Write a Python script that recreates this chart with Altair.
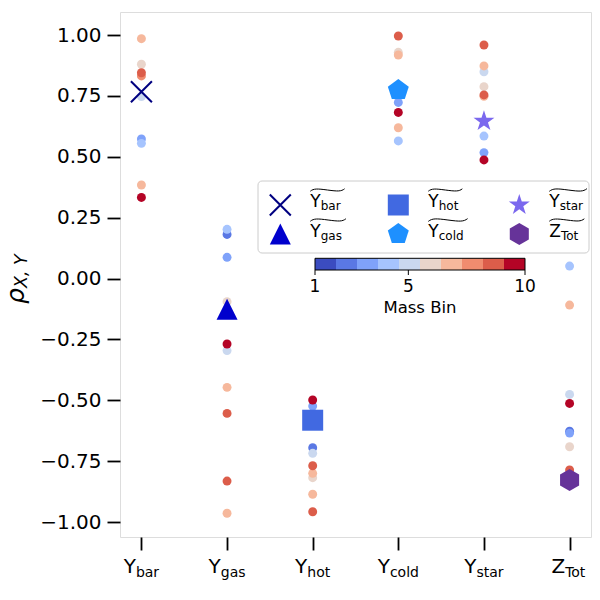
import math
import altair as alt
import pandas as pd

# ---------------- data ----------------
categories = ["Y_bar", "Y_gas", "Y_hot", "Y_cold", "Y_star", "Z_Tot"]
label_main = ["Y", "Y", "Y", "Y", "Y", "Z"]
label_sub = ["bar", "gas", "hot", "cold", "star", "Tot"]

ybar_vals = [0.985, 0.880, 0.845, 0.832, 0.747, 0.573, 0.555, 0.384, 0.333]
ybar_bins = [7, 6, 9, 8, 5, 3, 4, 7, 10]
ygas_vals = [0.202, 0.181, 0.087, -0.095, -0.269, -0.296, -0.447, -0.554, -0.832, -0.964]
ygas_bins = [4, 2, 3, 6, 10, 5, 7, 9, 9, 7]
yhot_vals = [-0.499, -0.524, -0.695, -0.718, -0.769, -0.800, -0.818, -0.886, -0.958]
yhot_bins = [10, 3, 2, 5, 9, 7, 6, 7, 9]
ycold_vals = [0.996, 0.929, 0.918, 0.723, 0.682, 0.619, 0.565]
ycold_bins = [9, 6, 7, 3, 10, 7, 4]
ystar_vals = [0.959, 0.873, 0.849, 0.788, 0.754, 0.748, 0.585, 0.517, 0.487]
ystar_bins = [9, 7, 5, 6, 9, 7, 4, 3, 10]
ztot_vals = [0.051, -0.109, -0.476, -0.513, -0.627, -0.635, -0.691, -0.786]
ztot_bins = [4, 7, 5, 10, 2, 3, 6, 9]

all_vals = [ybar_vals, ygas_vals, yhot_vals, ycold_vals, ystar_vals, ztot_vals]
all_bins = [ybar_bins, ygas_bins, yhot_bins, ycold_bins, ystar_bins, ztot_bins]

medians = [0.767, -0.126, -0.582, 0.774, 0.646, -0.828]
median_colors = ["#000080", "#0000cd", "#4169e1", "#1e90ff", "#7b68ee", "#663399"]

mass_bin_colors = ["#3b4cc0", "#5a78e4", "#7fa2fa", "#a6c4fe", "#cad8ef",
                   "#e9d5cb", "#f6b89c", "#f08c6f", "#dc5d4a", "#b40426"]
y_ticks = [-1.0, -0.75, -0.5, -0.25, 0.0, 0.25, 0.5, 0.75, 1.0]
cbar_ticks = [1, 5, 10]
cbar_title = "Mass Bin"

# ---------------- layout ----------------
FONT = "DejaVu Sans"
PLOT_L, PLOT_T, W, H = 120, 12, 471, 525
PLOT_R = PLOT_L + W
XMIN, XMAX = -0.25, 5.25
YMIN, YMAX = -1.0616, 1.0945


def dx(px):
    return XMIN + (px - PLOT_L) / W * (XMAX - XMIN)


def dy(py):
    return YMAX - (py - PLOT_T) / H * (YMAX - YMIN)


def cat_px(i):
    return PLOT_L + (i - XMIN) / (XMAX - XMIN) * W


ADV = {"Y": .611, "Z": .685, "X": .685, "T": .611, "b": .635, "a": .613, "r": .411,
       "g": .635, "s": .521, "h": .634, "o": .612, "t": .392, "c": .550, "l": .278,
       "d": .635, " ": .318, ",": .318}


def text_w(s, fs):
    return sum(ADV[c] for c in s) * fs


def poly_path(n, start_deg=-90.0, radii=(1.0,)):
    pts = []
    for k in range(n):
        ang = math.radians(start_deg + 360.0 / n * k)
        r = radii[k % len(radii)]
        pts.append(f"{r * math.cos(ang):.4f},{r * math.sin(ang):.4f}")
    return "M" + "L".join(pts) + "Z"


X_PATH = "M-1,-1L1,1M-1,1L1,-1"
TRI_PATH = "M0,-1L1,1L-1,1Z"
SQ_PATH = "M-1,-1L1,-1L1,1L-1,1Z"
PENT_PATH = poly_path(5)
STAR_PATH = poly_path(10, radii=(1.0, 0.381966))
HEX_PATH = poly_path(6)
TILDE_PATH = "M-1,0.07C-0.8,-0.09 -0.6,-0.08 0,0C0.6,0.08 0.8,0.09 1,-0.07"

shapes = [X_PATH, TRI_PATH, SQ_PATH, PENT_PATH, STAR_PATH, HEX_PATH]
sizes = [441, 441, 441, 484, 484, 484]

# ---------------- tables ----------------
rows = []
for i, (vals, bins) in enumerate(zip(all_vals, all_bins)):
    for v, b in zip(vals, bins):
        rows.append({"x": i, "y": v, "bin": b, "col": mass_bin_colors[b - 1]})
pts_df = pd.DataFrame(rows).sort_values("bin", kind="stable")

med_df = pd.DataFrame({"x": list(range(len(categories))), "y": medians,
                       "shape": shapes, "col": median_colors, "sz": sizes,
                       "cat": categories})

# legend
LEG_MX = [280.3, 398.3, 519.3]
LEG_MY = [205.0, 234.0]
LEG_BASE = [207.0, 237.0]
leg_pos = [(0, 0), (0, 1), (1, 0), (1, 1), (2, 0), (2, 1)]
leg_mark, leg_main, leg_sub, leg_tilde = [], [], [], []
for i, (c, r) in enumerate(leg_pos):
    leg_mark.append({"x": dx(LEG_MX[c]), "y": dy(LEG_MY[r]), "shape": shapes[i],
                     "col": median_colors[i], "sz": sizes[i], "cross": i == 0})
    left = LEG_MX[c] + 30
    wm = text_w(label_main[i], 17)
    ws = text_w(label_sub[i], 12)
    leg_main.append({"x": dx(left), "y": dy(LEG_BASE[r]), "text": label_main[i]})
    leg_sub.append({"x": dx(left + wm), "y": dy(LEG_BASE[r] + 3), "text": label_sub[i]})
    tw = wm + ws + 4
    leg_tilde.append({"x": dx(left + (wm + ws) / 2 + 2), "y": dy(LEG_BASE[r] - 17),
                      "sz": tw * tw})
leg_mark_df = pd.DataFrame(leg_mark)
leg_box_df = pd.DataFrame([{"x": dx(258), "x2": dx(PLOT_R - 2), "y": dy(181), "y2": dy(253)}])

# x tick labels with subscripts
tick_main, tick_sub = [], []
for i in range(len(categories)):
    wm = text_w(label_main[i], 20)
    ws = text_w(label_sub[i], 14)
    left = cat_px(i) - (wm + ws) / 2
    tick_main.append({"x": dx(left), "y": dy(573), "text": label_main[i]})
    tick_sub.append({"x": dx(left + wm), "y": dy(576.5), "text": label_sub[i]})

# colorbar
CB_L, CB_R, CB_T, CB_B = 315, 525, 258.3, 270


def cb_px(v):
    return CB_L + (v - 1) / 9 * (CB_R - CB_L)


cb_rows = []
for k in range(10):
    cb_rows.append({"x": dx(cb_px(1 + 0.9 * k)), "x2": dx(cb_px(1 + 0.9 * (k + 1))),
                    "y": dy(CB_T), "y2": dy(CB_B), "col": mass_bin_colors[k]})
cb_df = pd.DataFrame(cb_rows)
cb_out_df = pd.DataFrame([{"x": dx(CB_L), "x2": dx(CB_R), "y": dy(CB_T), "y2": dy(CB_B)}])
cb_tick_df = pd.DataFrame([{"x": dx(cb_px(t)), "y": dy(CB_B), "y2": dy(CB_B + 5),
                            "text": str(t), "ly": dy(292)} for t in cbar_ticks])
cb_title_df = pd.DataFrame([{"x": dx((CB_L + CB_R) / 2), "y": dy(312.5), "text": cbar_title}])

# y label
ylab_main = pd.DataFrame([{"x": dx(24.0), "y": dy(304), "text": "ρ"}])
ylab_sub = pd.DataFrame([{"x": dx(27.0), "y": dy(288), "text": "X, Y"}])

# ---------------- encodings ----------------
xscale = alt.Scale(domain=[XMIN, XMAX], nice=False, zero=False)
yscale = alt.Scale(domain=[YMIN, YMAX], nice=False, zero=False)
xaxis = alt.Axis(values=[0, 1, 2, 3, 4, 5], labels=False, ticks=True, tickSize=13,
                 tickWidth=1.8, tickColor="black", domain=False, grid=False, title=None)
yaxis = alt.Axis(values=y_ticks, format=".2f", labelFontSize=20, labelFont=FONT,
                 labelColor="black", tickSize=13, tickWidth=1.8, tickColor="black",
                 labelPadding=6, domain=False, grid=False, title=None, labelOverlap=False)
X = alt.X("x:Q", scale=xscale, axis=xaxis)
Y = alt.Y("y:Q", scale=yscale, axis=yaxis)

points = alt.Chart(pts_df).mark_circle(size=80, opacity=1).encode(
    x=X, y=Y, color=alt.Color("col:N", scale=None))

med_cross = alt.Chart(med_df[med_df.index == 0]).mark_point(
    filled=False, opacity=1, strokeWidth=2).encode(
    x=X, y=Y, shape=alt.Shape("shape:N", scale=None),
    color=alt.Color("col:N", scale=None), size=alt.Size("sz:Q", scale=None))
med_fill = alt.Chart(med_df[med_df.index > 0]).mark_point(
    filled=True, opacity=1).encode(
    x=X, y=Y, shape=alt.Shape("shape:N", scale=None),
    color=alt.Color("col:N", scale=None), size=alt.Size("sz:Q", scale=None))

leg_box = alt.Chart(leg_box_df).mark_rect(
    cornerRadius=4, fill="white", fillOpacity=0.8, stroke="#cccccc", strokeWidth=1).encode(
    x=X, x2="x2:Q", y=Y, y2="y2:Q")
leg_cross = alt.Chart(leg_mark_df[leg_mark_df.cross]).mark_point(
    filled=False, opacity=1, strokeWidth=2).encode(
    x=X, y=Y, shape=alt.Shape("shape:N", scale=None),
    color=alt.Color("col:N", scale=None), size=alt.Size("sz:Q", scale=None))
leg_fill = alt.Chart(leg_mark_df[~leg_mark_df.cross]).mark_point(
    filled=True, opacity=1).encode(
    x=X, y=Y, shape=alt.Shape("shape:N", scale=None),
    color=alt.Color("col:N", scale=None), size=alt.Size("sz:Q", scale=None))
leg_text_main = alt.Chart(pd.DataFrame(leg_main)).mark_text(
    align="left", baseline="alphabetic", font=FONT, fontSize=17, color="black").encode(
    x=X, y=Y, text="text:N")
leg_text_sub = alt.Chart(pd.DataFrame(leg_sub)).mark_text(
    align="left", baseline="alphabetic", font=FONT, fontSize=12, color="black").encode(
    x=X, y=Y, text="text:N")
leg_tildes = alt.Chart(pd.DataFrame(leg_tilde)).mark_point(
    filled=False, opacity=1, shape=TILDE_PATH, strokeWidth=1.0, color="black").encode(
    x=X, y=Y, size=alt.Size("sz:Q", scale=None))

cbar = alt.Chart(cb_df).mark_rect().encode(
    x=X, x2="x2:Q", y=Y, y2="y2:Q", color=alt.Color("col:N", scale=None))
cbar_out = alt.Chart(cb_out_df).mark_rect(
    fillOpacity=0, stroke="black", strokeWidth=1).encode(x=X, x2="x2:Q", y=Y, y2="y2:Q")
cbar_ticks_m = alt.Chart(cb_tick_df).mark_rule(color="black", strokeWidth=1).encode(
    x=X, y=Y, y2="y2:Q")
cbar_labels = alt.Chart(cb_tick_df).mark_text(
    align="center", baseline="alphabetic", font=FONT, fontSize=17, color="black").encode(
    x=X, y=alt.Y("ly:Q", scale=yscale, axis=yaxis), text="text:N")
cbar_title_m = alt.Chart(cb_title_df).mark_text(
    align="center", baseline="alphabetic", font=FONT, fontSize=16.5, color="black").encode(
    x=X, y=Y, text="text:N")

xt_main = alt.Chart(pd.DataFrame(tick_main)).mark_text(
    align="left", baseline="alphabetic", font=FONT, fontSize=20, color="black").encode(
    x=X, y=Y, text="text:N")
xt_sub = alt.Chart(pd.DataFrame(tick_sub)).mark_text(
    align="left", baseline="alphabetic", font=FONT, fontSize=14, color="black").encode(
    x=X, y=Y, text="text:N")

yl_main = alt.Chart(ylab_main).mark_text(
    align="left", baseline="alphabetic", angle=270, font=FONT, fontSize=25,
    fontStyle="italic", color="black").encode(x=X, y=Y, text="text:N")
yl_sub = alt.Chart(ylab_sub).mark_text(
    align="left", baseline="alphabetic", angle=270, font=FONT, fontSize=17.5,
    fontStyle="italic", color="black").encode(x=X, y=Y, text="text:N")

chart = alt.layer(
    points, med_cross, med_fill,
    leg_box, leg_cross, leg_fill, leg_text_main, leg_text_sub, leg_tildes,
    cbar, cbar_out, cbar_ticks_m, cbar_labels, cbar_title_m,
    xt_main, xt_sub, yl_main, yl_sub,
).properties(
    width=W, height=H,
    autosize=alt.AutoSizeParams(type="none"),
    padding={"left": 112, "top": 4, "right": 1, "bottom": 50},
).configure_view(
    stroke="black", strokeWidth=1
).configure(font=FONT)

chart.save("out.html", embed_options={"renderer": "svg", "actions": False})
